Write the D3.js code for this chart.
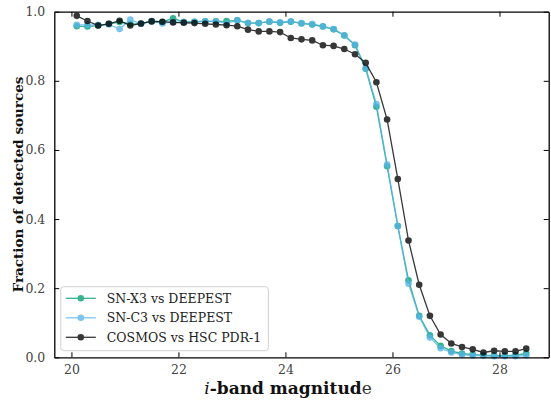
<!DOCTYPE html>
<html>
<head>
<meta charset="utf-8">
<title>Detection fraction</title>
<style>
  body { margin: 0; background: #fff; }
  text { font-family: "DejaVu Serif", "Liberation Serif", serif; }
</style>
</head>
<body>
<div id="chart"></div>
<script src="https://d3js.org/d3.v7.min.js"></script>
<script>
// magnitude bins, 20.1 to 28.5 in 0.2 steps
var mags = [20.1, 20.3, 20.5, 20.7, 20.9, 21.1, 21.3, 21.5, 21.7, 21.9,
            22.1, 22.3, 22.5, 22.7, 22.9, 23.1, 23.3, 23.5, 23.7, 23.9,
            24.1, 24.3, 24.5, 24.7, 24.9, 25.1, 25.3, 25.5, 25.7, 25.9,
            26.1, 26.3, 26.5, 26.7, 26.9, 27.1, 27.3, 27.5, 27.7, 27.9,
            28.1, 28.3, 28.5];

var snX3 = [0.958, 0.957, 0.960, 0.965, 0.970, 0.965, 0.965, 0.973, 0.970, 0.981,
            0.970, 0.971, 0.972, 0.972, 0.973, 0.975, 0.967, 0.967, 0.971, 0.968,
            0.971, 0.966, 0.963, 0.957, 0.949, 0.931, 0.903, 0.835, 0.725, 0.553,
            0.380, 0.223, 0.120, 0.064, 0.033, 0.018, 0.011, 0.008, 0.006, 0.005,
            0.005, 0.006, 0.011];

var snC3 = [0.962, 0.962, 0.962, 0.963, 0.950, 0.977, 0.965, 0.972, 0.966, 0.970,
            0.970, 0.971, 0.972, 0.972, 0.966, 0.975, 0.967, 0.967, 0.972, 0.969,
            0.972, 0.967, 0.964, 0.958, 0.950, 0.932, 0.905, 0.837, 0.733, 0.558,
            0.380, 0.213, 0.117, 0.057, 0.026, 0.014, 0.008, 0.005, 0.005, 0.003,
            0.003, 0.003, 0.005];

var cosmos = [0.988, 0.973, 0.960, 0.965, 0.974, 0.960, 0.966, 0.972, 0.971, 0.969,
              0.968, 0.967, 0.965, 0.963, 0.961, 0.958, 0.948, 0.943, 0.943, 0.941,
              0.924, 0.920, 0.917, 0.903, 0.901, 0.892, 0.877, 0.852, 0.796, 0.688,
              0.516, 0.338, 0.210, 0.120, 0.066, 0.040, 0.030, 0.023, 0.014, 0.019,
              0.017, 0.017, 0.025];

var xTicks = [20, 22, 24, 26, 28];
var yTicks = [0.0, 0.2, 0.4, 0.6, 0.8, 1.0];

var series = [
  { name: "SN-X3 vs DEEPEST", values: snX3, color: "#009E73" },
  { name: "SN-C3 vs DEEPEST", values: snC3, color: "#56B4E9" },
  { name: "COSMOS vs HSC PDR-1", values: cosmos, color: "#000000" }
];

var width = 551, height = 400;
var margin = { top: 11.7, right: 2.3, bottom: 42.7, left: 54.3 };
var w = width - margin.left - margin.right,
    h = height - margin.top - margin.bottom;

var svg = d3.select("#chart").append("svg")
    .attr("width", width)
    .attr("height", height);

var g = svg.append("g")
    .attr("transform", "translate(" + margin.left + "," + margin.top + ")");

// matplotlib style 5% padding around the data range
var pad = (d3.max(mags) - d3.min(mags)) * 0.05;
var x = d3.scaleLinear().domain([d3.min(mags) - pad, d3.max(mags) + pad]).range([0, w]);
var y = d3.scaleLinear().domain([0, 1]).range([h, 0]);

var line = d3.line()
    .x(function(d) { return x(d[0]); })
    .y(function(d) { return y(d[1]); });

series.forEach(function(s) {
  var pts = mags.map(function(m, i) { return [m, s.values[i]]; });
  var sg = g.append("g").attr("opacity", 0.78);
  sg.append("path")
    .datum(pts)
    .attr("d", line)
    .attr("fill", "none")
    .attr("stroke", s.color)
    .attr("stroke-width", 1.3);
  sg.selectAll("circle")
    .data(pts)
    .enter().append("circle")
    .attr("cx", function(d) { return x(d[0]); })
    .attr("cy", function(d) { return y(d[1]); })
    .attr("r", 3.3)
    .attr("fill", s.color);
});

// axes with inward ticks on all four sides
var fmt = d3.format(".1f");
var axBottom = g.append("g").attr("transform", "translate(0," + h + ")")
    .call(d3.axisBottom(x).tickValues(xTicks).tickSizeInner(-5).tickSizeOuter(0).tickPadding(8));
var axTop = g.append("g")
    .call(d3.axisTop(x).tickValues(xTicks).tickSizeInner(-5).tickSizeOuter(0).tickFormat(""));
var axLeft = g.append("g")
    .call(d3.axisLeft(y).tickValues(yTicks).tickSizeInner(-5).tickSizeOuter(0).tickPadding(9).tickFormat(fmt));
var axRight = g.append("g").attr("transform", "translate(" + w + ",0)")
    .call(d3.axisRight(y).tickValues(yTicks).tickSizeInner(-5).tickSizeOuter(0).tickFormat(""));

[axBottom, axTop, axLeft, axRight].forEach(function(a) {
  a.select(".domain").attr("stroke", "#000").attr("stroke-width", 1.3);
  a.selectAll(".tick line").attr("stroke", "#000").attr("stroke-width", 1);
  a.selectAll(".tick text")
    .attr("fill", "#444")
    .style("font-family", "'DejaVu Serif', serif")
    .style("font-size", "12.5px");
});

// axis titles
svg.append("text")
    .attr("transform", "translate(23," + (margin.top + h / 2) + ") rotate(-90)")
    .attr("text-anchor", "middle")
    .style("font-size", "13.5px")
    .style("font-weight", "bold")
    .attr("fill", "#111")
    .text("Fraction of detected sources");

var xt = svg.append("text")
    .attr("x", 288)
    .attr("y", 394)
    .attr("text-anchor", "middle")
    .style("font-size", "17px")
    .attr("fill", "#111");
xt.append("tspan").style("font-style", "italic").text("i");
xt.append("tspan").style("font-weight", "bold").text("-band magnitud");
xt.append("tspan").attr("fill", "#333").text("e");

// legend
var lg = g.append("g").attr("transform", "translate(6.5,275)");
lg.append("rect")
    .attr("width", 207.5)
    .attr("height", 64)
    .attr("rx", 3)
    .attr("fill", "#fff")
    .attr("fill-opacity", 0.8)
    .attr("stroke", "#d0d0d0");

series.forEach(function(s, i) {
  var row = lg.append("g")
      .attr("transform", "translate(0," + (11.6 + i * 19.5) + ")")
      .attr("opacity", 0.78);
  row.append("line")
    .attr("x1", 5).attr("x2", 35)
    .attr("stroke", s.color).attr("stroke-width", 1.3);
  row.append("circle").attr("cx", 20).attr("r", 3.3).attr("fill", s.color);
  lg.append("text")
    .attr("x", 46)
    .attr("y", 11.6 + i * 19.5 + 4.5)
    .style("font-size", "12.5px")
    .attr("fill", "#222")
    .text(s.name);
});
</script>
</body>
</html>
